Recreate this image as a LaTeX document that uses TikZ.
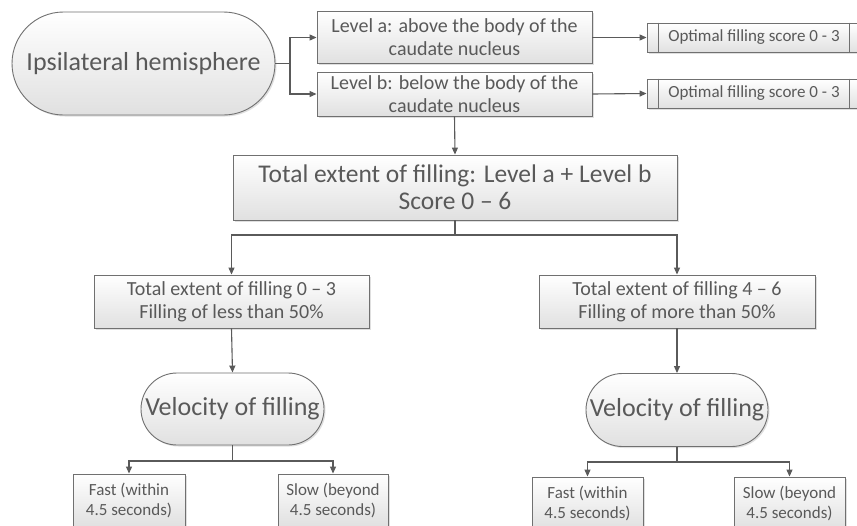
\documentclass[tikz,border=0pt]{standalone}
\usepackage{fontspec}
\setmainfont{Carlito}
\usetikzlibrary{arrows.meta,shapes.misc,shadows}
\definecolor{txt}{HTML}{595959}
\definecolor{edge}{HTML}{707070}
\definecolor{ln}{HTML}{5A5A5A}
\tikzset{
 boxbase/.style={draw=edge, line width=0.9pt, top color=white, bottom color=black!12, text=txt, align=center, inner sep=0pt, drop shadow={shadow xshift=1.5pt, shadow yshift=-1.5pt, opacity=0.25, fill=black!50}},
 procbox/.style={boxbase, rectangle},
 termbox/.style={boxbase, rounded rectangle},
 conn/.style={draw=ln, line width=1.1pt},
 arr/.style={conn, -{Triangle[length=7pt,width=6pt]}},
 big/.style={font=\fontsize{26}{30}\selectfont},
 mid/.style={font=\fontsize{25.5}{27}\selectfont},
 med/.style={font=\fontsize{20}{23}\selectfont},
 sml/.style={font=\fontsize{17}{20}\selectfont},
}
\begin{document}
\begin{tikzpicture}[x=1pt,y=-1pt]
\useasboundingbox (0,0) rectangle (857,525);
\clip (0,0) rectangle (857,525);
\fill[white] (0,0) rectangle (857,525);

\node[termbox, big, minimum width=263pt, minimum height=103pt] (hemi) at (143.5,63.5) {Ipsilateral hemisphere};
\node[procbox, med, minimum width=275pt, minimum height=52pt] (la) at (454.5,37.5) {Level a: above the body of the\\caudate nucleus};
\node[procbox, med, minimum width=275pt, minimum height=44pt] (lb) at (454.5,94) {Level b: below the body of the\\caudate nucleus};
\node[procbox, sml, minimum width=214pt, minimum height=29pt] (o1) at (754,37.5) {Optimal filling score 0 - 3};
\node[procbox, sml, minimum width=214pt, minimum height=29pt] (o2) at (754,93.5) {Optimal filling score 0 - 3};
\foreach \o in {o1,o2}{
  \draw[draw=edge, line width=0.9pt] ([xshift=12pt]\o.north west) -- ([xshift=12pt]\o.south west);
  \draw[draw=edge, line width=0.9pt] ([xshift=-12pt]\o.north east) -- ([xshift=-12pt]\o.south east);
}
\node[procbox, mid, minimum width=444pt, minimum height=65pt] (tot) at (455,187.5) {Total extent of filling: Level a + Level b\\Score 0 – 6};
\node[procbox, med, minimum width=275pt, minimum height=53pt] (lbox) at (231.5,301.5) {Total extent of filling 0 – 3\\Filling of less than 50\%};
\node[procbox, med, minimum width=276pt, minimum height=53pt] (rbox) at (677,301.5) {Total extent of filling 4 – 6\\Filling of more than 50\%};
\node[termbox, big, minimum width=183pt, minimum height=72pt] (vl) at (232.5,409) {Velocity of filling};
\node[termbox, big, minimum width=182pt, minimum height=73pt] (vr) at (677,410) {Velocity of filling};
\node[procbox, sml, minimum width=112pt, minimum height=52pt] (fl) at (129,500) {Fast (within\\4.5 seconds)};
\node[procbox, sml, minimum width=110pt, minimum height=52pt] (sl) at (333,500) {Slow (beyond\\4.5 seconds)};
\node[procbox, sml, minimum width=111pt, minimum height=52pt] (fr) at (587.5,503) {Fast (within\\4.5 seconds)};
\node[procbox, sml, minimum width=111pt, minimum height=52pt] (sr) at (789.5,503) {Slow (beyond\\4.5 seconds)};

\coordinate (j1) at (290,63.5);
\draw[conn] (hemi.east) -- (j1);
\draw[arr] (j1) |- (la.west);
\draw[arr] (j1) |- (lb.west);
\draw[arr] (la.east) -- (o1.west);
\draw[arr] (lb.east) -- (o2.west);
\draw[arr] (lb.south) -- (tot.north);
\coordinate (j2) at (455,235);
\draw[conn] (tot.south) -- (j2);
\draw[arr] (j2) -| (lbox.north);
\draw[arr] (j2) -| (rbox.north);
\draw[arr] (lbox.south) -- (vl.north);
\draw[arr] (rbox.south) -- (vr.north);
\coordinate (j3) at (232.5,461);
\draw[conn] (vl.south) -- (j3);
\draw[arr] (j3) -| (fl.north);
\draw[arr] (j3) -| (sl.north);
\coordinate (j4) at (677,462);
\draw[conn] (vr.south) -- (j4);
\draw[arr] (j4) -| (fr.north);
\draw[arr] (j4) -| (sr.north);
\end{tikzpicture}
\end{document}
